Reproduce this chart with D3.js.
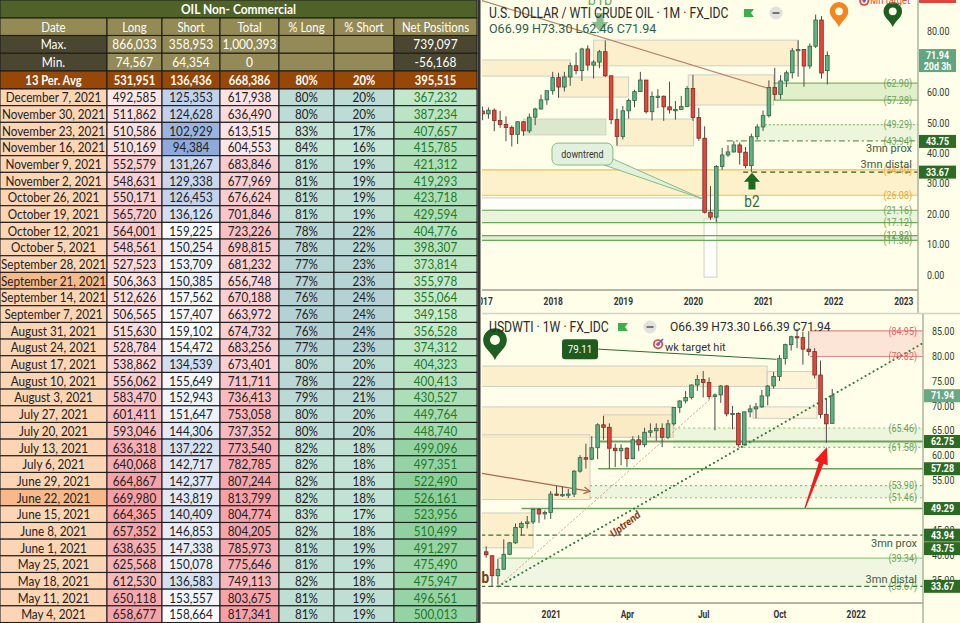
<!DOCTYPE html>
<html>
<head>
<meta charset="utf-8">
<script src="https://cdn.jsdelivr.net/npm/d3@7"></script>
<style>
  body { margin: 0; background: #fff; overflow: hidden; }
  svg { display: block; }
</style>
</head>
<body>
<script>
// ---------- COT table: OIL Non-Commercial ----------
const tableDates = ["December 7, 2021", "November 30, 2021", "November 23, 2021", "November 16, 2021",
  "November 9, 2021", "November 2, 2021", "October 26, 2021", "October 19, 2021", "October 12, 2021",
  "October 5, 2021", "September 28, 2021", "September 21, 2021", "September 14, 2021", "September 7, 2021",
  "August 31, 2021", "August 24, 2021", "August 17, 2021", "August 10, 2021", "August 3, 2021",
  "July 27, 2021", "July 20, 2021", "July 13, 2021", "July 6, 2021", "June 29, 2021", "June 22, 2021",
  "June 15, 2021", "June 8, 2021", "June 1, 2021", "May 25, 2021", "May 18, 2021", "May 11, 2021", "May 4, 2021"];
const longVals = [492585, 511862, 510586, 510169, 552579, 548631, 550171, 565720, 564001, 548561, 527523,
  506363, 512626, 506565, 515630, 528784, 538862, 556062, 583470, 601411, 593046, 636318, 640068, 664867,
  669980, 664365, 657352, 638635, 625568, 612530, 650118, 658677];
const shortVals = [125353, 124628, 102929, 94384, 131267, 129338, 126453, 136126, 159225, 150254, 153709,
  150385, 157562, 157407, 159102, 154472, 134539, 155649, 152943, 151647, 144306, 137222, 142717, 142377,
  143819, 140409, 146853, 147338, 150078, 136583, 153557, 158664];
const totalVals = [617938, 636490, 613515, 604553, 683846, 677969, 676624, 701846, 723226, 698815, 681232,
  656748, 670188, 663972, 674732, 683256, 673401, 711711, 736413, 753058, 737352, 773540, 782785, 807244,
  813799, 804774, 804205, 785973, 775646, 749113, 803675, 817341];
const pctLong = [80, 80, 83, 84, 81, 81, 81, 81, 78, 78, 77, 77, 76, 76, 76, 77, 80, 78, 79, 80, 80, 82, 82,
  82, 82, 83, 82, 81, 81, 82, 81, 81];
const pctShort = [20, 20, 17, 16, 19, 19, 19, 19, 22, 22, 23, 23, 24, 24, 24, 23, 20, 22, 21, 20, 20, 18, 18,
  18, 18, 17, 18, 19, 19, 18, 19, 19];
const netVals = [367232, 387234, 407657, 415785, 421312, 419293, 423718, 429594, 404776, 398307, 373814,
  355978, 355064, 349158, 356528, 374312, 404323, 400413, 430527, 449764, 448740, 499096, 497351, 522490,
  526161, 523956, 510499, 491297, 475490, 475947, 496561, 500013];
const markedDates = ["September 21, 2021", "June 22, 2021"];
const headerLabels = ["Date", "Long", "Short", "Total", "% Long", "% Short", "Net Positions"];
const maxRow = ["Max.", "866,033", "358,953", "1,000,393", "", "", "739,097"];
const minRow = ["Min.", "74,567", "64,354", "0", "", "", "-56,168"];
const avgRow = ["13 Per. Avg", "531,951", "136,436", "668,386", "80%", "20%", "395,515"];

// ---------- USD/WTI monthly, Jan 2017 .. Dec 2021  [open, high, low, close] ----------
const monthlyOHLC = [
  [53.7, 55.2, 50.7, 52.8], [52.8, 54.9, 51.2, 54.0], [54.0, 54.6, 47.1, 50.6], [50.6, 53.8, 48.2, 49.3],
  [49.3, 52.0, 43.8, 48.3], [48.3, 49.0, 42.1, 46.0], [46.0, 50.4, 42.9, 50.2], [50.2, 50.4, 45.6, 47.2],
  [47.2, 52.9, 46.5, 51.7], [51.7, 54.8, 49.1, 54.4], [54.4, 59.1, 54.2, 57.4], [57.4, 60.5, 55.8, 60.4],
  [60.4, 66.6, 59.1, 64.7], [64.7, 66.3, 58.1, 61.6], [61.6, 66.6, 60.1, 64.9], [64.9, 69.6, 62.0, 68.6],
  [68.6, 72.9, 65.8, 67.0], [67.0, 74.5, 63.6, 74.1], [74.1, 75.3, 67.0, 68.8], [68.8, 70.4, 64.4, 69.8],
  [69.8, 73.8, 67.8, 73.2], [73.2, 76.9, 64.9, 65.3], [65.3, 65.3, 49.4, 50.9], [50.9, 54.5, 42.4, 45.4],
  [45.4, 55.4, 44.4, 53.8], [53.8, 57.8, 51.2, 57.2], [57.2, 60.7, 55.0, 60.1], [60.1, 66.6, 60.0, 63.9],
  [63.9, 63.9, 52.9, 53.5], [53.5, 60.1, 50.6, 58.5], [58.5, 60.9, 54.7, 58.6], [58.6, 58.8, 50.5, 55.1],
  [55.1, 63.4, 52.9, 54.1], [54.1, 57.0, 50.9, 54.2], [54.2, 58.7, 54.1, 55.2], [55.2, 61.9, 55.0, 61.1],
  [61.1, 65.6, 50.5, 51.6], [51.6, 54.7, 44.0, 44.8], [44.8, 48.7, 20.1, 20.5], [20.5, 29.1, 18.0, 18.9],
  [18.9, 36.0, 17.3, 35.5], [35.5, 41.6, 34.4, 39.3], [39.3, 42.5, 38.7, 40.3], [40.3, 43.8, 40.1, 42.6],
  [42.6, 43.4, 36.1, 40.2], [40.2, 41.9, 34.9, 35.8], [35.8, 46.3, 33.6, 45.3], [45.3, 49.4, 44.3, 48.5],
  [48.5, 53.9, 47.2, 52.2], [52.2, 63.8, 51.6, 61.5], [61.5, 67.9, 57.3, 59.2], [59.2, 65.5, 57.6, 63.6],
  [63.6, 67.0, 61.6, 66.3], [66.3, 74.4, 64.4, 73.5], [73.5, 76.9, 65.0, 73.9], [73.9, 74.1, 61.7, 68.5],
  [68.5, 75.9, 67.6, 75.0], [75.0, 85.4, 74.4, 83.6], [83.6, 84.9, 64.4, 66.2], [66.99, 73.30, 62.46, 71.94]
];
// ---------- USD/WTI weekly, week of Oct 19 2020 .. Dec 6 2021 ----------
const weeklyOHLC = [
  [40.6, 41.7, 39.4, 40.0], [39.8, 39.9, 33.6, 35.8], [35.8, 39.2, 34.0, 37.1], [37.1, 43.1, 37.0, 40.1],
  [40.1, 42.6, 39.9, 42.4], [42.4, 46.3, 42.2, 45.5], [45.5, 46.7, 43.9, 46.3], [46.3, 47.8, 45.3, 46.6],
  [46.6, 49.3, 46.2, 49.1], [49.1, 49.4, 46.4, 48.2], [48.2, 48.9, 47.1, 48.5], [48.5, 52.8, 47.2, 52.2],
  [52.2, 53.9, 51.8, 52.0], [52.0, 53.7, 51.6, 52.1], [52.1, 53.2, 51.4, 52.2], [52.2, 57.0, 51.6, 56.8],
  [56.8, 60.0, 56.5, 59.5], [59.5, 62.3, 57.3, 59.2], [59.2, 63.8, 59.0, 61.5], [61.5, 66.4, 59.2, 66.1],
  [66.1, 67.9, 63.1, 65.6], [65.6, 66.4, 57.3, 61.4], [61.4, 62.3, 57.6, 60.9], [60.9, 62.2, 58.0, 61.4],
  [61.4, 61.6, 57.6, 59.3], [59.3, 63.8, 59.2, 63.1], [63.1, 64.0, 60.8, 62.1], [62.1, 65.5, 61.6, 64.6],
  [64.6, 66.4, 63.7, 64.9], [64.9, 66.4, 62.9, 65.4], [65.4, 66.4, 61.6, 63.6], [63.6, 67.1, 63.2, 66.3],
  [66.3, 69.7, 65.9, 69.6], [69.6, 71.0, 68.5, 70.9], [70.9, 72.9, 70.4, 71.6], [71.6, 74.2, 71.2, 74.1],
  [74.1, 76.1, 72.9, 75.2], [75.2, 76.9, 71.6, 74.6], [74.6, 75.6, 71.2, 71.8], [71.8, 72.4, 65.0, 72.1],
  [72.1, 74.1, 70.5, 73.9], [73.9, 74.1, 67.8, 68.3], [68.3, 69.9, 65.2, 68.4], [68.4, 68.6, 61.7, 62.1],
  [62.1, 68.8, 61.9, 68.7], [68.7, 70.1, 67.6, 69.3], [69.3, 70.5, 67.4, 69.7], [69.7, 73.1, 69.5, 71.9],
  [71.9, 74.1, 70.0, 73.9], [73.9, 76.7, 73.4, 75.8], [75.8, 80.1, 74.9, 79.4], [79.4, 82.4, 78.2, 82.2],
  [82.2, 84.0, 81.0, 83.8], [83.8, 85.4, 81.5, 83.6], [83.6, 84.8, 78.2, 81.3], [81.3, 84.9, 80.0, 80.8],
  [80.8, 81.5, 75.4, 76.1], [76.1, 79.0, 67.4, 68.2], [68.2, 71.4, 62.5, 66.3], [66.39, 73.30, 66.39, 71.94]
];
const yearLabels = ["2017", "2018", "2019", "2020", "2021", "2022", "2023"];
const quarterLabels = ["2021", "Apr", "Jul", "Oct", "2022"];
const topPriceTicks = [0, 10, 20, 30, 40, 50, 60, 80];   // 70 and 90 sit under price tags
const bottomPriceTicks = [35, 40, 45, 55, 60, 65, 70, 75, 80, 85];   // 50 sits under a tag

// zones, in month index (0 = Jan 2017) / price
const topBoxes = [
  {from: -1, to: 15, top: 70.5, bottom: 65.2, fill: "#fbe9c2"},
  {from: 19, to: 54, top: 77.0, bottom: 68.6, fill: "#fbe9c2"},
  {from: 13, to: 25, top: 64.9, bottom: 58.3, fill: "#fbe9c2"},
  {from: 35.2, to: 49.8, top: 65.6, bottom: 55.7, fill: "#fbe9c2"},
  {from: 7, to: 21.1, top: 51.1, bottom: 45.9, fill: "#cfe0c0"},
  {from: 23, to: 36.1, top: 51.1, bottom: 42.3, fill: "#fbe9c2"},
  {from: -1, to: 37.7, top: 25.2, bottom: 21.16, fill: "#ffffff"},
  {from: 37.9, to: 40.1, top: 18.3, bottom: -0.8, fill: "#ffffff"}
];
const topBands = [
  {from: 50, top: 62.90, bottom: 57.28, fill: "#dcedc6"},
  {from: 47.4, top: 49.29, bottom: 43.94, fill: "#eaf3da"},
  {from: -1, top: 34.40, bottom: 26.08, fill: "#fcefc4"},
  {from: -1, top: 21.16, bottom: 17.12, fill: "#e6f1d8"},
  {from: -1, top: 12.82, bottom: 11.30, fill: "#dcebcc"}
];
const topLevels = [
  {price: 62.90, from: 49.8, color: "#7db35e", text: "(62.90)"},
  {price: 57.28, from: 49.8, color: "#7db35e", text: "(57.28)"},
  {price: 49.29, from: 48.3, color: "#8cc070", dash: "2,2", text: "(49.29)"},
  {price: 43.94, from: 41.8, color: "#5f9f4f", dash: "6,3,2,3", text: "(43.94)"},
  {price: 34.40, from: -1, color: "#f2c14c", text: "(34.40)", textColor: "#e8a83a"},
  {price: 26.08, from: -1, color: "#f2c14c", text: "(26.08)", textColor: "#e8a83a"},
  {price: 33.67, from: 44.6, color: "#2c5e2c", dash: "5,4"},
  {price: 21.16, from: -1, color: "#6aa85a", text: "(21.16)"},
  {price: 17.12, from: -1, color: "#6aa85a", text: "(17.12)"},
  {price: 12.82, from: -1, color: "#6aa85a", text: "(12.82)"},
  {price: 11.30, from: -1, color: "#6aa85a", text: "(11.30)"}
];
const topTags = [
  {price: 71.94, text: "71.94", sub: "20d 3h", fill: "#62a582"},
  {price: 43.75, text: "43.75", fill: "#2d6a24"},
  {price: 33.67, text: "33.67", fill: "#2d6a24"}
];

// zones, in week index (0 = week of Oct 19 2020) / price
const bottomBoxes = [
  {from: -1, to: 47.9, top: 77.9, bottom: 73.8, fill: "#fbe9c2"},
  {from: 47.9, to: 56.4, top: 76.8, bottom: 73.4, fill: "#fcf0d4"},
  {from: -1, to: 31.9, top: 69.7, bottom: 63.6, fill: "#fbe9c2"},
  {from: 20, to: 31.9, top: 68.1, bottom: 63.6, fill: "#fbe9c2"},
  {from: -1, to: 17.7, top: 64.1, bottom: 51.1, fill: "#fbe9c2"},
  {from: -1, to: 8, top: 48.4, bottom: 41.4, fill: "#fbe9c2"},
  {from: 45.5, to: 56.4, top: 69.7, bottom: 67.4, fill: "#fcf0d4"}
];
const bottomBands = [
  {from: 55.2, top: 84.95, bottom: 79.82, fill: "#fbe1d3"},
  {from: 31.9, top: 65.46, bottom: 61.58, fill: "#eaf3da"},
  {from: 17.7, top: 53.90, bottom: 51.46, fill: "#eaf3da"},
  {from: 2.07, top: 39.34, bottom: 33.67, fill: "#eef5e0"}
];
const bottomLevels = [
  {price: 84.95, from: 55.2, color: "#e88585", text: "(84.95)", textColor: "#e06666"},
  {price: 79.82, from: 55.2, color: "#e88585", text: "(79.82)", textColor: "#e06666"},
  {price: 65.46, from: 31.9, color: "#8cc070", dash: "2,3", text: "(65.46)"},
  {price: 61.58, from: 31.9, color: "#8cc070", dash: "2,3", text: "(61.58)"},
  {price: 62.75, from: 19.4, color: "#6f9f5a", width: 2},
  {price: 57.28, from: 19.1, color: "#6f9f5a", width: 1.5},
  {price: 53.90, from: 17.7, color: "#8cc070", dash: "2,3", text: "(53.90)"},
  {price: 51.46, from: 17.7, color: "#8cc070", dash: "2,3", text: "(51.46)"},
  {price: 49.29, from: 6.05, color: "#6f9f5a", width: 1.5},
  {price: 43.94, from: -1, color: "#3e6e3e", dash: "5,3"},
  {price: 39.34, from: 2.07, color: "#9cc98a", text: "(39.34)"},
  {price: 33.67, from: -1, color: "#3e6e3e", dash: "5,3", text: "(33.67)"}
];
const bottomTags = [
  {price: 71.94, text: "71.94", fill: "#6aa884"},
  {price: 62.75, text: "62.75", fill: "#2d6a24"},
  {price: 57.28, text: "57.28", fill: "#2d6a24"},
  {price: 49.29, text: "49.29", fill: "#2d6a24"},
  {price: 43.94, text: "43.94", fill: "#2d6a24"},
  {price: 43.75, text: "43.75", fill: "#2d6a24", shift: 12.5},
  {price: 33.67, text: "33.67", fill: "#2d6a24"}
];

// ---------- canvas ----------
const W = 960, H = 623;
const S = 0.85; // the screenshot is squeezed horizontally, text follows
const svg = d3.select("body").append("svg").attr("width", W).attr("height", H);
const defs = svg.append("defs");

function label(g, x, y, str, o = {}) {
  return g.append("text")
    .attr("transform", `translate(${x},${y}) scale(${o.sx || S},1)` + (o.rotate ? ` rotate(${o.rotate})` : ""))
    .attr("text-anchor", o.anchor || "start")
    .attr("dy", o.dy || "0.35em")
    .attr("font-family", o.font || "Roboto, 'Liberation Sans', sans-serif")
    .attr("font-size", o.size || 11)
    .attr("font-weight", o.weight || "normal")
    .attr("fill", o.fill || "#222")
    .text(str);
}

// ---------- table ----------
const tableG = svg.append("g").attr("id", "cot-table");
const colEdges = [0, 107, 162, 220, 279, 334, 394, 477];
const rowY = d3.scaleBand().domain(d3.range(tableDates.length)).range([89, 622.5]);
const tFont = {font: "Lato, 'Open Sans', sans-serif", size: 13, sx: 0.9};

function cell(j, y0, y1, fill, txt, o = {}) {
  tableG.append("rect")
    .attr("x", colEdges[j]).attr("y", y0)
    .attr("width", colEdges[j + 1] - colEdges[j]).attr("height", y1 - y0)
    .attr("fill", fill).attr("stroke", "#1e1e1e").attr("stroke-width", 1.1);
  if (txt !== "") label(tableG, (colEdges[j] + colEdges[j + 1]) / 2, (y0 + y1) / 2 + 0.5, txt,
    Object.assign({anchor: "middle"}, tFont, o));
}

const longColor = d3.scaleLinear().domain(d3.extent(longVals)).range(["#fde6e8", "#f6a0a6"]);
const totalColor = d3.scaleLinear().domain(d3.extent(totalVals)).range(["#fde6e8", "#f6a0a6"]);
const shortColor = d3.scaleLinear().domain(d3.extent(shortVals)).range(["#8eaadb", "#fbfcff"]);
const netColor = d3.scaleLinear().domain(d3.extent(netVals)).range(["#c8eacf", "#8ccf9c"]);
const pctLongColor = d3.scaleLinear().domain([76, 84]).range(["#b4d1d4", "#c6e7d6"]);
const pctShortColor = d3.scaleLinear().domain([16, 24]).range(["#c6e7d6", "#b4d1d4"]);
const fmt = d3.format(",");

// title + header rows
tableG.append("rect").attr("x", 0).attr("y", 0).attr("width", 477).attr("height", 18)
  .attr("fill", "#4f6228").attr("stroke", "#1e1e1e");
label(tableG, 238.5, 9.5, "OIL Non- Commercial",
  Object.assign({}, tFont, {anchor: "middle", fill: "#fff", weight: "bold", size: 13, sx: 0.92}));
headerLabels.forEach((h, j) => cell(j, 18, 35.5, "#948a54", h, {fill: "#fff", sx: 0.88}));
const dark = "#4a4630", khaki = "#938a57";
[maxRow, minRow].forEach((r, k) => {
  const y0 = 35.5 + k * 17.75;
  r.forEach((t, j) => cell(j, y0, y0 + 17.75, (j === 0 || j === 6) ? dark : khaki, t, {fill: "#fff", sx: 0.92}));
});
avgRow.forEach((t, j) => cell(j, 71, 89, "#974706", t, {fill: "#fff", weight: "bold", size: 12.5, sx: 0.9}));

// data rows
tableDates.forEach((d, i) => {
  const y0 = rowY(i), y1 = y0 + rowY.bandwidth();
  cell(0, y0, y1, markedDates.includes(d) ? "#f7b98a" : "#fcd5b4", d);
  cell(1, y0, y1, longColor(longVals[i]), fmt(longVals[i]));
  cell(2, y0, y1, shortColor(shortVals[i]), fmt(shortVals[i]));
  cell(3, y0, y1, totalColor(totalVals[i]), fmt(totalVals[i]));
  cell(4, y0, y1, pctLongColor(pctLong[i]), pctLong[i] + "%");
  cell(5, y0, y1, pctShortColor(pctShort[i]), pctShort[i] + "%");
  cell(6, y0, y1, netColor(netVals[i]), fmt(netVals[i]), {fill: "#1f7a25"});
});

// ---------- chart panes ----------
svg.append("rect").attr("x", 480).attr("y", 0).attr("width", 480).attr("height", H).attr("fill", "#fefee9");
svg.append("line").attr("x1", 479).attr("x2", 479).attr("y1", 0).attr("y2", H)
  .attr("stroke", "#333").attr("stroke-width", 3);

const upFill = "#62b184", upLine = "#2f6446", downFill = "#e5463b", downLine = "#7a2a22";

function drawBoxes(g, boxes, x, y) {
  g.append("g").selectAll("rect").data(boxes).join("rect")
    .attr("x", d => x(d.from)).attr("y", d => y(d.top))
    .attr("width", d => x(d.to) - x(d.from)).attr("height", d => y(d.bottom) - y(d.top))
    .attr("fill", d => d.fill).attr("fill-opacity", 0.75)
    .attr("stroke", "#cfcfc6").attr("stroke-width", 1);
}
function drawBands(g, bands, x, y, right) {
  g.append("g").selectAll("rect").data(bands).join("rect")
    .attr("x", d => x(d.from)).attr("y", d => y(d.top))
    .attr("width", d => right - x(d.from)).attr("height", d => y(d.bottom) - y(d.top))
    .attr("fill", d => d.fill).attr("fill-opacity", 0.85);
}
function drawLevels(g, levels, x, y, right) {
  g.append("g").selectAll("line").data(levels).join("line")
    .attr("x1", d => x(d.from)).attr("x2", right)
    .attr("y1", d => y(d.price)).attr("y2", d => y(d.price))
    .attr("stroke", d => d.color).attr("stroke-width", d => d.width || 1.2)
    .attr("stroke-dasharray", d => d.dash || null);
}
function drawLevelText(g, levels, y, right) {
  levels.filter(d => d.text).forEach(d =>
    label(g, right - 6, y(d.price), d.text, {anchor: "end", size: 10.5, fill: d.textColor || "#6aa35a"}));
}
function drawCandles(g, rows, x, y, bw) {
  const c = g.append("g").selectAll("g").data(rows).join("g");
  c.append("line")
    .attr("x1", (d, i) => x(i)).attr("x2", (d, i) => x(i))
    .attr("y1", d => y(d[1])).attr("y2", d => y(d[2]))
    .attr("stroke", "#4b4b4b").attr("stroke-width", 1);
  c.append("rect")
    .attr("x", (d, i) => x(i) - bw / 2)
    .attr("y", d => y(Math.max(d[0], d[3])))
    .attr("width", bw)
    .attr("height", d => Math.max(1.2, Math.abs(y(d[0]) - y(d[3]))))
    .attr("fill", d => d[3] >= d[0] ? upFill : downFill)
    .attr("stroke", d => d[3] >= d[0] ? upLine : downLine)
    .attr("stroke-width", 0.8);
}
function drawTags(g, tags, y, x0) {
  tags.forEach(t => {
    const cy = y(t.price) + (t.shift || 0);
    g.append("rect").attr("x", x0).attr("y", cy - 6.5).attr("width", 37)
      .attr("height", t.sub ? 23 : 13).attr("fill", t.fill);
    label(g, x0 + 18.5, cy, t.text, {anchor: "middle", size: 10.5, fill: "#fff", weight: "bold"});
    if (t.sub) label(g, x0 + 18.5, cy + 11, t.sub, {anchor: "middle", size: 10.5, fill: "#fff", weight: "bold"});
  });
}
function pinPath(cx, top, tip) {
  const r = (tip - top) * 0.37, cy = top + r;
  return `M${cx},${tip} C${cx - r * 0.35},${tip - r * 0.8} ${cx - r},${cy + r * 0.75} ${cx - r},${cy}` +
    ` A${r},${r} 0 0 1 ${cx + r},${cy} C${cx + r},${cy + r * 0.75} ${cx + r * 0.35},${tip - r * 0.8} ${cx},${tip} Z`;
}
function drawPin(g, cx, top, tip, color) {
  const r = (tip - top) * 0.37;
  g.append("path").attr("d", pinPath(cx, top, tip)).attr("fill", color);
  g.append("circle").attr("cx", cx).attr("cy", top + r).attr("r", r * 0.42).attr("fill", "#fefee9");
}
function arrowPath(cx, tipY, baseY, headW, shaftW, headLen) {
  const s = Math.sign(baseY - tipY), hy = tipY + s * headLen;
  return `M${cx},${tipY} L${cx + headW / 2},${hy} L${cx + shaftW / 2},${hy} L${cx + shaftW / 2},${baseY}` +
    ` L${cx - shaftW / 2},${baseY} L${cx - shaftW / 2},${hy} L${cx - headW / 2},${hy} Z`;
}
function drawLegendIcons(g, flagX, flagY, circX) {
  g.append("path").attr("d", `M${flagX},${flagY} h10 l-3,4 l3,4 h-10 Z`).attr("fill", "#3fae49");
  g.append("circle").attr("cx", circX).attr("cy", flagY + 4).attr("r", 6.5).attr("fill", "#e2e2dc");
  g.append("line").attr("x1", circX - 3.5).attr("x2", circX + 3.5).attr("y1", flagY + 4).attr("y2", flagY + 4)
    .attr("stroke", "#777").attr("stroke-width", 2);
}
function drawTarget(g, cx, cy) {
  g.append("circle").attr("cx", cx).attr("cy", cy).attr("r", 5).attr("fill", "#e8403a");
  g.append("circle").attr("cx", cx).attr("cy", cy).attr("r", 3.3).attr("fill", "#fff");
  g.append("circle").attr("cx", cx).attr("cy", cy).attr("r", 1.8).attr("fill", "#e8403a");
  g.append("line").attr("x1", cx).attr("y1", cy).attr("x2", cx + 5).attr("y2", cy - 5)
    .attr("stroke", "#3b6fd0").attr("stroke-width", 1.5);
}

// ===== top pane: monthly =====
const topG = svg.append("g").attr("id", "monthly");
const xT = d3.scaleLinear().domain([12, 72]).range([552.7, 903.3]);
const yT = d3.scaleLinear().domain([0, 80]).range([274.7, 31]);
const topRight = 918;
defs.append("clipPath").attr("id", "clipTop").append("rect")
  .attr("x", 482).attr("y", 0).attr("width", topRight - 482).attr("height", 289);
const topPlot = topG.append("g").attr("clip-path", "url(#clipTop)");

drawBands(topPlot, topBands, xT, yT, topRight);
drawBoxes(topPlot, topBoxes, xT, yT);
drawLevels(topPlot, topLevels, xT, yT, topRight);
// downtrend line
topPlot.append("line")
  .attr("x1", xT(-0.44)).attr("y1", yT(90.2)).attr("x2", xT(49.2)).attr("y2", yT(61.0))
  .attr("stroke", "#b98565").attr("stroke-width", 1.2);
drawCandles(topPlot, monthlyOHLC, xT, yT, 3.6);
drawLevelText(topPlot, topLevels, yT, topRight);
label(topPlot, topRight - 6, yT(41.6), "3mn prox", {anchor: "end", size: 11, sx: 1, fill: "#3d5d3d"});
label(topPlot, topRight - 6, yT(36.2), "3mn distal", {anchor: "end", size: 11, sx: 1, fill: "#3d5d3d"});

// downtrend callout
topPlot.append("path")
  .attr("d", `M${xT(20.8)},${yT(36.0)} L${xT(37.7)},${yT(24.85)} L${xT(22.3)},${yT(38.0)} Z`)
  .attr("fill", "#e2f1dd").attr("stroke", "#86bb86").attr("stroke-width", 1);
topPlot.append("rect")
  .attr("x", xT(11.88)).attr("y", yT(43.2)).attr("width", xT(22.3) - xT(11.88)).attr("height", yT(36.0) - yT(43.2))
  .attr("rx", 6).attr("fill", "#e2f1dd").attr("stroke", "#86bb86");
label(topPlot, (xT(11.88) + xT(22.3)) / 2, yT(39.6), "downtrend", {anchor: "middle", size: 10.5, fill: "#333"});

// b1b and b2 markers
label(topPlot, xT(20.1), yT(88.4), "b1b", {anchor: "middle", size: 17, fill: "#6aa86a", dy: "0"});
topPlot.append("path").attr("d", arrowPath(xT(20.1), yT(79.7), yT(85.9), 17, 7, 10))
  .attr("fill", "#77b37f").attr("fill-opacity", 0.85);
topPlot.append("path").attr("d", arrowPath(xT(46.1), yT(33.5), yT(28.0), 16, 7, 9)).attr("fill", "#1d6a1f");
label(topPlot, xT(46.1), yT(22.1), "b2", {anchor: "middle", size: 16, fill: "#2e6e2e", dy: "0"});

// pins and month target
drawPin(topPlot, xT(61.0), yT(89.5), yT(81.3), "#f5841f");
drawPin(topPlot, xT(70.2), yT(89.5), yT(81.3), "#1e5e20");
drawTarget(topPlot, xT(65.3), yT(89.9));
label(topPlot, xT(66.3), yT(88.9), "Mn target", {size: 11, fill: "#e04a40", dy: "0"});

// legend
label(topG, 489, 13, "U.S. DOLLAR / WTI CRUDE OIL \u00b7 1M \u00b7 FX_IDC", {size: 14, sx: 0.87, fill: "#2b2b2b"});
drawLegendIcons(topG, 744, 9, 776);
label(topG, 489, 29, "O66.99 H73.30 L62.46 C71.94", {size: 12.5, sx: 1, fill: "#2e5e4e"});

// axes
topG.append("line").attr("x1", 482).attr("x2", topRight).attr("y1", 290).attr("y2", 290)
  .attr("stroke", "#9c9c96").attr("stroke-width", 1.5);
topG.append("line").attr("x1", topRight).attr("x2", topRight).attr("y1", 0).attr("y2", 313)
  .attr("stroke", "#a9b69c").attr("stroke-width", 1.5);
defs.append("clipPath").attr("id", "clipTopAxis").append("rect")
  .attr("x", 481).attr("y", 290).attr("width", 479).attr("height", 23);
const gxT = topG.append("g").attr("clip-path", "url(#clipTopAxis)").append("g")
  .attr("transform", "translate(0,301)")
  .call(d3.axisBottom(xT).tickValues(d3.range(0, 73, 12)).tickFormat((d, i) => yearLabels[i]).tickSize(0).tickPadding(0));
gxT.select(".domain").remove();
gxT.selectAll("text").attr("y", 0).attr("dy", "0.35em").attr("transform", "scale(0.8,1)")
  .attr("font-family", "Roboto, sans-serif").attr("font-size", 10.5).attr("font-weight", "bold").attr("fill", "#333");
const gyT = topG.append("g").attr("transform", "translate(927,0)")
  .call(d3.axisRight(yT).tickValues(topPriceTicks).tickFormat(d3.format(".2f")).tickSize(0).tickPadding(0));
gyT.select(".domain").remove();
gyT.selectAll("text").attr("dy", "0.35em").attr("transform", `scale(${S},1)`)
  .attr("font-family", "Roboto, sans-serif").attr("font-size", 10.5).attr("fill", "#2f3f2f");
topG.append("rect").attr("x", 919).attr("y", -10).attr("width", 37).attr("height", 13).attr("fill", "#e0443c");
drawTags(topG, topTags, yT, 919);

// pane separator
svg.append("line").attr("x1", 482).attr("x2", W).attr("y1", 313.5).attr("y2", 313.5)
  .attr("stroke", "#d2d2ca").attr("stroke-width", 1.5);

// ===== bottom pane: weekly =====
const botG = svg.append("g").attr("id", "weekly");
const xB = d3.scaleLinear().domain([11, 63]).range([550.7, 855.7]);
const yB = d3.scaleLinear().domain([35, 85]).range([579.7, 330.7]);
const botRight = 923;
defs.append("clipPath").attr("id", "clipBot").append("rect")
  .attr("x", 482).attr("y", 315).attr("width", botRight - 482).attr("height", 287);
const botPlot = botG.append("g").attr("clip-path", "url(#clipBot)");

drawBands(botPlot, bottomBands, xB, yB, botRight);
drawBoxes(botPlot, bottomBoxes, xB, yB);
drawLevels(botPlot, bottomLevels, xB, yB, botRight);

// trend lines
botPlot.append("line")
  .attr("x1", xB(2.07)).attr("y1", yB(33.67)).attr("x2", xB(39.3)).attr("y2", yB(72.4))
  .attr("stroke", "#c9a283").attr("stroke-width", 1).attr("stroke-dasharray", "2,2");
botPlot.append("line")
  .attr("x1", xB(2.07)).attr("y1", yB(33.67)).attr("x2", xB(74.5)).attr("y2", yB(82.53))
  .attr("stroke", "#2e7a36").attr("stroke-width", 2).attr("stroke-dasharray", "0.1,4.5")
  .attr("stroke-linecap", "round");
{
  const ax1 = xB(-1), ay1 = yB(56.4), ax2 = xB(17.7), ay2 = yB(52.75);
  botPlot.append("line").attr("x1", ax1).attr("y1", ay1).attr("x2", ax2).attr("y2", ay2)
    .attr("stroke", "#a8664a").attr("stroke-width", 1.2);
  const ang = Math.atan2(ay2 - ay1, ax2 - ax1);
  const hx = (a) => ax2 - 7 * Math.cos(ang + a), hy = (a) => ay2 - 7 * Math.sin(ang + a);
  botPlot.append("path").attr("d", `M${hx(0.5)},${hy(0.5)} L${ax2},${ay2} L${hx(-0.5)},${hy(-0.5)}`)
    .attr("fill", "none").attr("stroke", "#a8664a").attr("stroke-width", 1.2);
}
drawCandles(botPlot, weeklyOHLC, xB, yB, 3.6);
drawLevelText(botPlot, bottomLevels, yB, botRight);
label(botPlot, botRight - 6, yB(42.4), "3mn prox", {anchor: "end", size: 11, sx: 1, fill: "#3d5d3d"});
label(botPlot, botRight - 6, yB(35.2), "3mn distal", {anchor: "end", size: 11, sx: 1, fill: "#3d5d3d"});
label(botPlot, xB(23.7), yB(46.2), "Uptrend", {anchor: "middle", size: 11, weight: "bold", fill: "#8b3a1a", rotate: -33});
label(botPlot, xB(0.49), yB(35.4), "b", {anchor: "end", size: 16, weight: "bold", fill: "#7a3b1a"});

// red arrow to the wick
{
  const tx = xB(54.36), ty = yB(49.4), px = xB(58.1), py = yB(61.65);
  const L = Math.hypot(px - tx, py - ty), ux = (px - tx) / L, uy = (py - ty) / L, nx = -uy, ny = ux;
  const bx = px - ux * 17, by = py - uy * 17;
  const pts = [[tx + nx * 0.6, ty + ny * 0.6], [bx + nx * 2.5, by + ny * 2.5], [bx + nx * 7, by + ny * 7], [px, py],
    [bx - nx * 7, by - ny * 7], [bx - nx * 2.5, by - ny * 2.5], [tx - nx * 0.6, ty - ny * 0.6]];
  botPlot.append("path").attr("d", "M" + pts.map(p => p.join(",")).join(" L") + " Z").attr("fill", "#f41a1a");
}

// weekly target annotation
botPlot.append("line").attr("x1", xB(19.1)).attr("y1", yB(81.3)).attr("x2", xB(49.5)).attr("y2", yB(79.26))
  .attr("stroke", "#2e6a2e").attr("stroke-width", 1);
botPlot.append("rect").attr("x", xB(16.0) - 18).attr("y", yB(81.3) - 10).attr("width", 36).attr("height", 20)
  .attr("rx", 3).attr("fill", "#1f5a1f");
label(botPlot, xB(16.0), yB(81.3), "79.11", {anchor: "middle", size: 11.5, fill: "#fff"});
drawTarget(botPlot, xB(29.3), yB(82.3));
label(botPlot, xB(30.5), yB(81.7), "wk target hit", {size: 11.5, sx: 0.96, fill: "#333"});
drawPin(botPlot, xB(1.5), yB(85.5), yB(79.1), "#1e5e20");

// legend
label(botG, 489, 327, "USDWTI \u00b7 1W \u00b7 FX_IDC", {size: 14, sx: 0.87, fill: "#2b2b2b"});
drawLegendIcons(botG, 618, 323, 650);
label(botG, 670, 327, "O66.39 H73.30 L66.39 C71.94", {size: 12, sx: 1, fill: "#2b2b2b"});

// axes
botG.append("line").attr("x1", 482).attr("x2", botRight).attr("y1", 603).attr("y2", 603)
  .attr("stroke", "#9c9c96").attr("stroke-width", 1.5);
botG.append("line").attr("x1", botRight).attr("x2", botRight).attr("y1", 314).attr("y2", H)
  .attr("stroke", "#a9b69c").attr("stroke-width", 1.5);
const gxB = botG.append("g").attr("transform", "translate(0,614)")
  .call(d3.axisBottom(xB).tickValues([11, 24, 37, 50, 63]).tickFormat((d, i) => quarterLabels[i]).tickSize(0).tickPadding(0));
gxB.select(".domain").remove();
gxB.selectAll("text").attr("y", 0).attr("dy", "0.35em").attr("transform", "scale(0.8,1)")
  .attr("font-family", "Roboto, sans-serif").attr("font-size", 10.5).attr("font-weight", "bold").attr("fill", "#333");
const gyB = botG.append("g").attr("transform", "translate(932,0)")
  .call(d3.axisRight(yB).tickValues(bottomPriceTicks).tickFormat(d3.format(".2f")).tickSize(0).tickPadding(0));
gyB.select(".domain").remove();
gyB.selectAll("text").attr("dy", "0.35em").attr("transform", `scale(${S},1)`)
  .attr("font-family", "Roboto, sans-serif").attr("font-size", 10.5).attr("fill", "#2f3f2f");
drawTags(botG, bottomTags, yB, 924);
</script>
</body>
</html>
